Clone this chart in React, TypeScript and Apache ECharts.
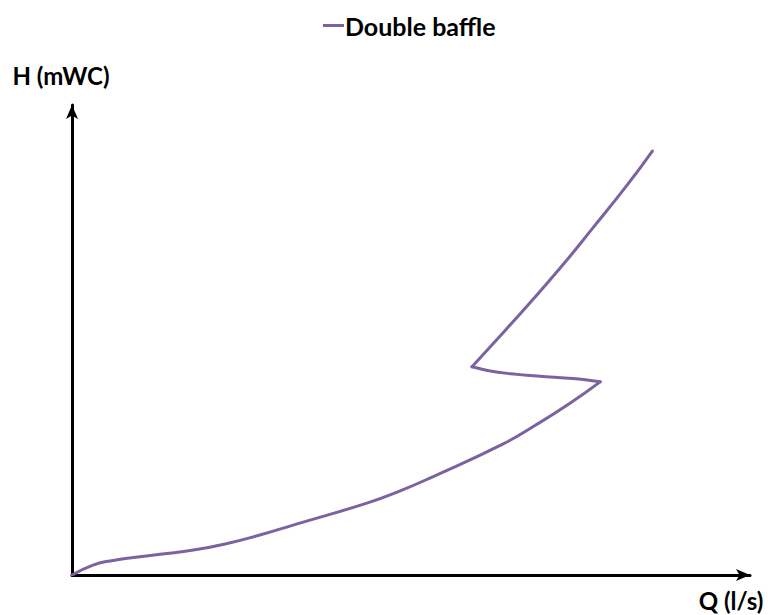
import React, { useEffect, useRef } from "react";
import * as echarts from "echarts";

const seriesName = "Double baffle";
const xAxisName = "Q (l/s)";
const yAxisName = "H (mWC)";

// Rising branch: from origin to the right turning point (axis units 0-100)
const lowerQ = [0, 3.1, 5.6, 13.0, 17.9, 22.9, 27.7, 32.6, 43.5, 48.4, 53.2, 63.6, 68.4, 73.5, 77.9];
const lowerH = [0, 2.1, 3.0, 4.4, 5.3, 6.7, 8.5, 10.6, 15.3, 17.9, 20.9, 27.9, 31.9, 36.6, 41.1];
// Near-flat branch: right turning point back to the left turning point
const middleQ = [77.9, 73.9, 69.0, 64.2, 61.7, 59.0];
const middleH = [41.1, 41.8, 42.3, 42.9, 43.4, 44.3];
// Upper branch: left turning point to the end of the curve
const upperQ = [59.0, 62.1, 67.1, 72.0, 76.8, 81.9, 85.6];
const upperH = [44.3, 49.2, 57.2, 65.3, 73.8, 83.0, 90.2];

const FONT = "Lato";
const COLOR = "#7b62a0";

export default function App() {
  const ref = useRef<HTMLDivElement>(null);
  useEffect(() => {
    if (!ref.current) return;
    const chart = echarts.init(ref.current, null, { renderer: "svg" });
    const pairs = (qs: number[], hs: number[]) => qs.map((q, i) => [q, hs[i]]);
    const mk = (data: number[][], smooth: number) => ({
      name: seriesName,
      type: "line",
      data,
      smooth,
      symbol: "none",
      lineStyle: { color: COLOR, width: 3, cap: "round", join: "round" },
      itemStyle: { color: COLOR },
    });
    chart.setOption({
      animation: false,
      backgroundColor: "#ffffff",
      legend: {
        top: 8,
        left: 318,
        data: [{ name: seriesName, icon: "rect" }],
        itemWidth: 21,
        itemHeight: 3,
        itemGap: 10,
        textStyle: {
          fontFamily: FONT,
          fontWeight: "bold",
          fontSize: 25,
          color: "#000",
          padding: [0, 0, 0, -4],
        },
      },
      grid: { left: 72, top: 105, right: 18, bottom: 40 },
      xAxis: {
        type: "value",
        min: 0,
        max: 100,
        name: xAxisName,
        nameLocation: "end",
        nameGap: -19,
        nameTextStyle: {
          fontFamily: FONT,
          fontWeight: "bold",
          fontSize: 24,
          color: "#000",
          align: "center",
          verticalAlign: "top",
          padding: [13, 0, 0, 0],
        },
        axisLine: {
          show: true,
          symbol: ["none", "arrow"],
          symbolSize: [9, 14],
          lineStyle: { color: "#000", width: 3 },
        },
        axisTick: { show: false },
        axisLabel: { show: false },
        splitLine: { show: false },
      },
      yAxis: {
        type: "value",
        min: 0,
        max: 100,
        name: yAxisName,
        nameLocation: "end",
        nameGap: 18,
        nameTextStyle: {
          fontFamily: FONT,
          fontWeight: "bold",
          fontSize: 24,
          color: "#000",
          align: "center",
          padding: [0, 22, 0, 0],
        },
        axisLine: {
          show: true,
          symbol: ["none", "arrow"],
          symbolSize: [9, 14],
          lineStyle: { color: "#000", width: 3 },
        },
        axisTick: { show: false },
        axisLabel: { show: false },
        splitLine: { show: false },
      },
      series: [
        mk(pairs(lowerQ, lowerH), 0.5),
        mk(pairs(middleQ, middleH), 0.4),
        mk(pairs(upperQ, upperH), 0.5),
      ],
    });
    return () => chart.dispose();
  }, []);
  return (
    <div
      ref={ref}
      style={{ position: "fixed", left: 0, top: 0, width: 768, height: 615 }}
    />
  );
}
